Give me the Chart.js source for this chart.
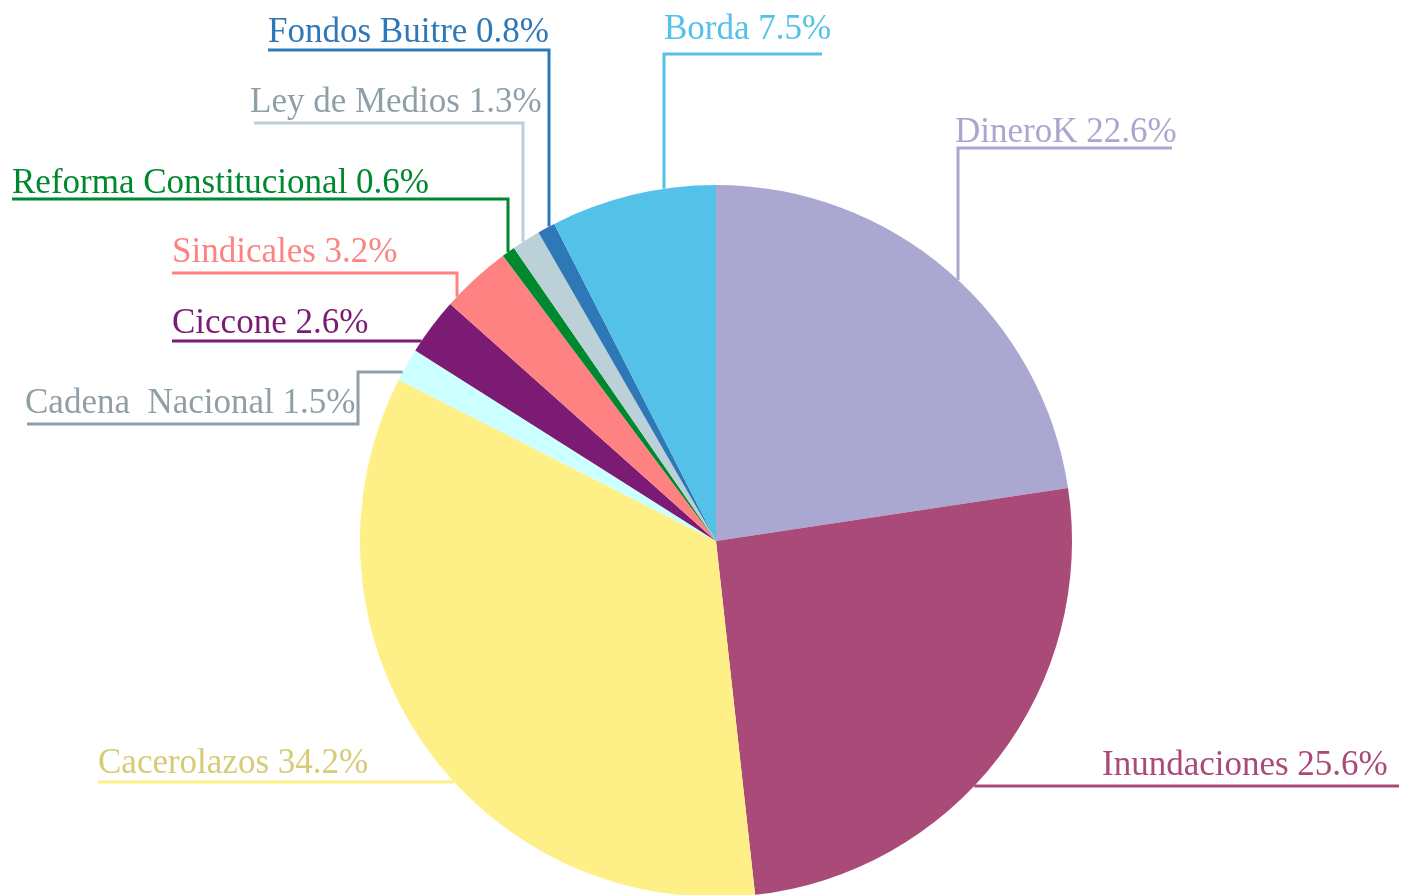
<!DOCTYPE html>
<html lang="es">
<head>
<meta charset="UTF-8" />
<title>Temas</title>
<style>
  html, body { margin: 0; padding: 0; background: #fff; overflow: hidden; }
  .wrap { position: relative; width: 1401px; height: 897px; }
</style>
</head>
<body>
<div class="wrap">
  <canvas id="pie"></canvas>
</div>

<script src="https://cdn.jsdelivr.net/npm/chart.js"></script>
<script>
  // Data
  const topics = ['DineroK', 'Inundaciones', 'Cacerolazos', 'Cadena  Nacional', 'Ciccone',
                  'Sindicales', 'Reforma Constitucional', 'Ley de Medios', 'Fondos Buitre', 'Borda'];
  const shares = [22.6, 25.6, 34.2, 1.5, 2.6, 3.2, 0.6, 1.3, 0.8, 7.5];

  const sliceColors = ['#aaa8d0', '#aa4a78', '#fef087', '#ccffff', '#7b1b74',
                       '#ff8282', '#00882f', '#bcd0d8', '#2e78b8', '#54c1e8'];
  const textColors  = ['#a9a7cf', '#aa4a78', '#d6cb76', '#909fa6', '#7b1b74',
                       '#ff8282', '#00882f', '#8f9fa8', '#2e78b8', '#54c1e8'];
  const lineColors  = ['#aaa8d0', '#aa4a78', '#fef087', '#909fa6', '#7b1b74',
                       '#ff8282', '#00882f', '#bcd0d8', '#2e78b8', '#54c1e8'];

  // label placement: text left/baseline, underline y and span, how the leader reaches the pie
  const labelLayout = [
    { tx: 955,  ty: 142, uy: 148, x1: 958,  x2: 1172, leader: 'down', lx: 958 },
    { tx: 1102, ty: 775, uy: 786, x1: null, x2: 1399, leader: 'right' },
    { tx: 98,   ty: 773, uy: 782, x1: 98,   x2: null, leader: 'left' },
    { tx: 25,   ty: 413, uy: 424, x1: 27,   x2: 358,  leader: 'elbow', lx: 358, ey: 372 },
    { tx: 172,  ty: 333, uy: 341, x1: 172,  x2: null, leader: 'left' },
    { tx: 172,  ty: 262, uy: 273, x1: 172,  x2: 457,  leader: 'down', lx: 457 },
    { tx: 12,   ty: 193, uy: 199, x1: 12,   x2: 508,  leader: 'down', lx: 508 },
    { tx: 250,  ty: 112, uy: 123, x1: 254,  x2: 523,  leader: 'down', lx: 523 },
    { tx: 268,  ty: 42,  uy: 50,  x1: 268,  x2: 549,  leader: 'down', lx: 549 },
    { tx: 664,  ty: 39,  uy: 54,  x1: 664,  x2: 822,  leader: 'down', lx: 664 }
  ];

  const calloutPlugin = {
    id: 'callouts',
    afterDatasetsDraw(chart) {
      const ctx = chart.ctx;
      const arc = chart.getDatasetMeta(0).data[0];
      const cx = arc.x, cy = arc.y, r = arc.outerRadius;
      const yOnArc = x => cy - Math.sqrt(r * r - (x - cx) * (x - cx));
      const xOnArc = (y, side) => cx + side * Math.sqrt(r * r - (y - cy) * (y - cy));

      ctx.save();
      ctx.lineWidth = 3;
      ctx.font = '35px "Liberation Serif", serif';
      ctx.textBaseline = 'alphabetic';
      topics.forEach((name, i) => {
        const L = labelLayout[i];
        ctx.strokeStyle = lineColors[i];
        ctx.beginPath();
        if (L.leader === 'down') {
          ctx.moveTo(L.x1, L.uy);
          ctx.lineTo(L.x2, L.uy);
          ctx.moveTo(L.lx, L.uy - 1.5);
          ctx.lineTo(L.lx, yOnArc(L.lx));
        } else if (L.leader === 'left') {
          ctx.moveTo(L.x1, L.uy);
          ctx.lineTo(xOnArc(L.uy, -1), L.uy);
        } else if (L.leader === 'right') {
          ctx.moveTo(xOnArc(L.uy, 1), L.uy);
          ctx.lineTo(L.x2, L.uy);
        } else if (L.leader === 'elbow') {
          ctx.moveTo(L.x1, L.uy);
          ctx.lineTo(L.lx, L.uy);
          ctx.lineTo(L.lx, L.ey);
          ctx.lineTo(xOnArc(L.ey, -1), L.ey);
        }
        ctx.stroke();

        ctx.fillStyle = textColors[i];
        ctx.fillText(name + ' ' + shares[i].toFixed(1) + '%', L.tx, L.ty);
      });
      ctx.restore();
    }
  };

  new Chart(document.getElementById('pie'), {
    type: 'pie',
    data: {
      labels: topics,
      datasets: [{
        data: shares,
        backgroundColor: sliceColors,
        borderWidth: 0
      }]
    },
    options: {
      responsive: true,
      maintainAspectRatio: false,
      animation: false,
      layout: { padding: { top: 185, left: 31, right: 0, bottom: 0 } },
      plugins: {
        legend: { display: false },
        tooltip: { enabled: false }
      }
    },
    plugins: [calloutPlugin]
  });
</script>
</body>
</html>
